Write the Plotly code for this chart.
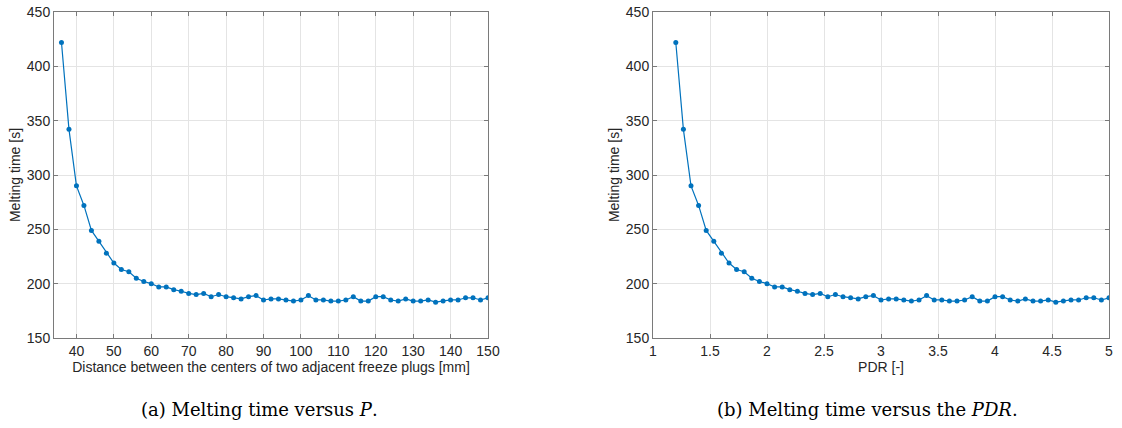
import plotly.graph_objects as go

distance_mm = list(range(36, 151, 2))
melting_time_s = [
    422, 342, 290, 272, 249, 239, 228, 219, 213, 211,
    205, 202, 200, 197, 197, 194.5, 193, 191, 190, 191,
    188, 190, 188, 187, 186, 188, 189, 185, 186, 186,
    185, 184, 185, 189, 185, 185, 184, 184, 185, 188,
    184, 184, 188, 188, 185, 184, 186, 184, 184, 185,
    183, 184, 185, 185, 187, 187, 185, 187,
]
pdr = [p / 30 for p in distance_mm]

left_ticks = [40, 50, 60, 70, 80, 90, 100, 110, 120, 130, 140, 150]
right_ticks = [1, 1.5, 2, 2.5, 3, 3.5, 4, 4.5, 5]
right_tick_labels = ["1", "1.5", "2", "2.5", "3", "3.5", "4", "4.5", "5"]
y_ticks = [150, 200, 250, 300, 350, 400, 450]

LINE = "#0072BD"
TXT = "#262626"
FONT = "Liberation Sans, Arial, sans-serif"

W, H = 1122, 428


def px(x):
    return x / W


def py(y):
    return 1 - y / H


fig = go.Figure()
fig.add_trace(go.Scatter(x=distance_mm, y=melting_time_s, mode="lines+markers",
                         line=dict(color=LINE, width=1.2),
                         marker=dict(color=LINE, size=5),
                         xaxis="x", yaxis="y", showlegend=False))
fig.add_trace(go.Scatter(x=pdr, y=melting_time_s, mode="lines+markers",
                         line=dict(color=LINE, width=1.2),
                         marker=dict(color=LINE, size=5),
                         xaxis="x2", yaxis="y2", showlegend=False))

ax_common = dict(showline=True, linecolor="#7a7a7a", linewidth=1, mirror="ticks",
                 ticks="inside", ticklen=4, tickcolor="#7a7a7a",
                 showgrid=True, gridcolor="#e4e4e4", gridwidth=1, zeroline=False,
                 automargin=False,
                 tickfont=dict(family=FONT, size=14, color=TXT))

title_font = dict(family=FONT, size=14, color=TXT)

fig.update_layout(
    width=W, height=H,
    margin=dict(l=0, r=0, t=0, b=0),
    paper_bgcolor="white", plot_bgcolor="white",
    xaxis=dict(domain=[px(54), px(488)], range=[34, 150], tickvals=left_ticks,
               anchor="y",
               title=dict(text="Distance between the centers of two adjacent freeze plugs [mm]",
                          font=title_font, standoff=2),
               **ax_common),
    yaxis=dict(domain=[py(338), py(12)], range=[150, 450], tickvals=y_ticks,
               anchor="x",
               title=dict(text="Melting time [s]", font=title_font, standoff=2),
               **ax_common),
    xaxis2=dict(domain=[px(653), px(1109)], range=[1, 5], tickvals=right_ticks,
                ticktext=right_tick_labels, anchor="y2",
                title=dict(text="PDR [-]", font=title_font, standoff=2),
                **ax_common),
    yaxis2=dict(domain=[py(338), py(12)], range=[150, 450], tickvals=y_ticks,
                anchor="x2",
                title=dict(text="Melting time [s]", font=title_font, standoff=2),
                **ax_common),
)

cap_font = dict(family="DejaVu Serif, Liberation Serif, serif", size=18, color="black")
fig.add_annotation(text="(a) Melting time versus <i>P</i>.", x=px(259), y=py(409),
                   xref="paper", yref="paper", showarrow=False, font=cap_font,
                   xanchor="center", yanchor="middle")
fig.add_annotation(text="(b) Melting time versus the <i>PDR</i>.", x=px(868), y=py(409),
                   xref="paper", yref="paper", showarrow=False, font=cap_font,
                   xanchor="center", yanchor="middle")

fig.write_html("out.html",
               config={"displayModeBar": False},
               post_script="document.body.style.margin='0';document.body.style.padding='0';")
